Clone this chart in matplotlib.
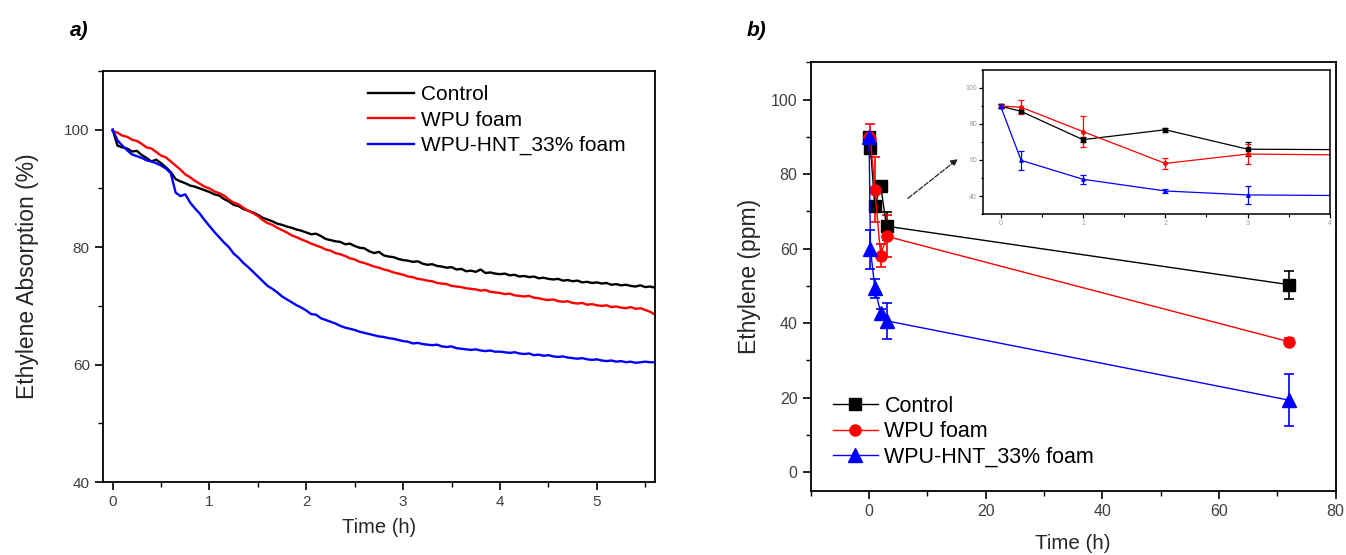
import numpy as np
import matplotlib
matplotlib.use('Agg')
import matplotlib.pyplot as plt
from matplotlib.ticker import MultipleLocator

plt.rcParams['font.family'] = ['Liberation Sans', 'DejaVu Sans']

# ---- panel a: continuous absorption curves, one reading every 0.05 h ----
time_a = np.round(np.arange(113) * 0.05, 2)

control_a = [
    100.0, 97.3, 97.0, 96.8, 96.3, 96.4, 95.7, 95.2, 94.6, 94.9,
    94.3, 93.6, 92.8, 91.6, 91.2, 90.9, 90.5, 90.3, 90.0, 89.7,
    89.4, 89.0, 88.8, 88.2, 87.8, 87.2, 87.0, 86.5, 86.2, 85.9,
    85.5, 85.0, 84.7, 84.4, 84.0, 83.8, 83.5, 83.3, 83.0, 82.8,
    82.5, 82.2, 82.3, 81.9, 81.4, 81.2, 81.0, 80.9, 80.5, 80.6,
    80.2, 79.9, 79.8, 79.3, 79.0, 79.2, 78.6, 78.4, 78.3, 78.0,
    77.8, 77.7, 77.5, 77.6, 77.2, 77.0, 77.1, 76.8, 76.7, 76.5,
    76.6, 76.2, 76.3, 75.9, 76.0, 75.8, 76.2, 75.6, 75.7, 75.5,
    75.4, 75.5, 75.2, 75.3, 75.0, 75.1, 74.9, 75.0, 74.7, 74.8,
    74.6, 74.5, 74.6, 74.3, 74.4, 74.2, 74.3, 74.0, 74.1, 73.9,
    74.0, 73.8, 73.9, 73.6, 73.7, 73.5, 73.6, 73.4, 73.3, 73.5,
    73.2, 73.3, 73.1,
]
wpu_a = [
    99.8, 99.5, 99.0, 98.8, 98.3, 98.1, 97.6, 97.0, 96.8, 96.2,
    95.6, 95.3, 94.6, 93.9, 93.2, 92.4, 91.9, 91.3, 90.8, 90.3,
    90.0, 89.5, 89.2, 88.8, 88.1, 87.6, 87.3, 86.7, 86.2, 85.8,
    85.3, 84.6, 84.1, 83.8, 83.3, 82.9, 82.5, 82.0, 81.7, 81.3,
    81.0, 80.6, 80.3, 80.0, 79.6, 79.4, 79.0, 78.8, 78.5, 78.1,
    77.9, 77.5, 77.3, 77.0, 76.7, 76.5, 76.2, 76.0, 75.7, 75.5,
    75.3, 75.0, 74.9, 74.6, 74.5, 74.3, 74.2, 73.9, 73.8, 73.7,
    73.4, 73.3, 73.2, 73.0, 72.9, 72.8, 72.6, 72.7, 72.4, 72.3,
    72.2, 72.0, 72.1, 71.8, 71.7, 71.6, 71.7, 71.4, 71.3, 71.1,
    71.0, 71.1, 70.8, 70.7, 70.8, 70.5, 70.4, 70.5, 70.2, 70.3,
    70.1, 70.0, 70.1, 69.8, 69.9, 69.7, 69.6, 69.8, 69.5, 69.6,
    69.3, 69.0, 68.5,
]
hnt_a = [
    100.0, 98.2, 97.3, 96.5, 95.8, 95.5, 95.2, 94.8, 94.6, 94.3,
    93.9, 93.4, 92.6, 89.3, 88.7, 89.0, 87.6, 86.6, 85.7, 84.6,
    83.6, 82.6, 81.7, 80.8, 80.0, 78.9, 78.2, 77.3, 76.6, 75.8,
    75.0, 74.2, 73.4, 72.9, 72.3, 71.6, 71.1, 70.6, 70.1, 69.7,
    69.2, 68.6, 68.5, 67.9, 67.6, 67.3, 67.0, 66.6, 66.3, 66.1,
    65.9, 65.6, 65.4, 65.2, 65.0, 64.8, 64.7, 64.5, 64.4, 64.2,
    64.0, 63.9, 63.6, 63.7, 63.5, 63.4, 63.3, 63.4, 63.1, 63.0,
    63.1, 62.8, 62.7, 62.6, 62.5, 62.6, 62.4, 62.3, 62.4, 62.2,
    62.2, 62.1, 62.0, 62.1, 61.9, 61.8, 61.9, 61.6, 61.7, 61.5,
    61.6, 61.4, 61.3, 61.4, 61.2, 61.1, 61.0, 61.1, 60.9, 60.8,
    60.9, 60.7, 60.6, 60.7, 60.5, 60.6, 60.4, 60.5, 60.3, 60.4,
    60.5, 60.4, 60.4,
]

# ---- panel b: discrete ethylene readings with error bars ----
time_b = [0, 0.25, 1, 2, 3, 72]
control_b = [90.0, 87.0, 71.3, 76.8, 66.0, 50.3]
control_err = [1.0, 1.0, 1.5, 1.0, 3.8, 3.8]
wpu_b = [90.0, 89.3, 75.8, 58.1, 63.3, 35.0]
wpu_err = [1.0, 4.0, 8.8, 3.0, 5.6, 1.0]
hnt_b = [90.0, 59.8, 49.3, 42.8, 40.6, 19.3]
hnt_err = [1.0, 5.2, 2.6, 1.0, 4.8, 7.0]

labels = ['Control', 'WPU foam', 'WPU-HNT_33% foam']
colors = ['#000000', '#ff0000', '#0000ff']
markers = ['s', 'o', '^']
tick_col = '#404040'
label_col = '#262626'

fig = plt.figure(figsize=(13.46, 5.55), dpi=100)

# panel a
ax1 = fig.add_axes([0.0765, 0.1315, 0.4101, 0.7405])
for y, c, lab in zip([control_a, wpu_a, hnt_a], colors, labels):
    ax1.plot(time_a, y, color=c, lw=1.7, label=lab)
ax1.set_xlim(-0.1, 5.6)
ax1.set_ylim(40, 110)
ax1.xaxis.set_major_locator(MultipleLocator(1))
ax1.xaxis.set_minor_locator(MultipleLocator(0.5))
ax1.yaxis.set_major_locator(MultipleLocator(20))
ax1.yaxis.set_minor_locator(MultipleLocator(10))
ax1.tick_params(which='major', direction='out', length=6, width=1.2,
                labelsize=11, labelcolor=tick_col)
ax1.tick_params(which='minor', direction='out', length=3.5, width=1.0)
ax1.set_xlabel('Time (h)', fontsize=14.5, color=label_col, labelpad=6)
ax1.set_ylabel('Ethylene Absorption (%)', fontsize=16.5, color=label_col, labelpad=18)
for s in ax1.spines.values():
    s.set_linewidth(1.3)
ax1.legend(loc='upper left', bbox_to_anchor=(0.4805, 0.965), frameon=False,
           fontsize=15, handlelength=2.2, handletextpad=0.35, labelspacing=0.3,
           borderpad=0, borderaxespad=0)

# panel b
ax2 = fig.add_axes([0.6023, 0.1159, 0.3900, 0.7719])
sizes = [8, 8, 9.5]
for y, e, c, m, ms, lab in zip([control_b, wpu_b, hnt_b], [control_err, wpu_err, hnt_err],
                               colors, markers, sizes, labels):
    ax2.errorbar(time_b, y, yerr=e, color=c, marker=m, ms=ms, lw=1.0,
                 elinewidth=1.2, capsize=3.5, capthick=1.2, label=lab)
ax2.set_xlim(-10, 80)
ax2.set_ylim(-5, 110)
ax2.xaxis.set_major_locator(MultipleLocator(20))
ax2.xaxis.set_minor_locator(MultipleLocator(10))
ax2.yaxis.set_major_locator(MultipleLocator(20))
ax2.yaxis.set_minor_locator(MultipleLocator(10))
ax2.tick_params(which='major', direction='out', length=6, width=1.2,
                labelsize=11.5, labelcolor=tick_col)
ax2.tick_params(which='minor', direction='out', length=3.5, width=1.0)
ax2.set_xlabel('Time (h)', fontsize=14.8, color=label_col, labelpad=11)
ax2.set_ylabel('Ethylene (ppm)', fontsize=16.5, color=label_col, labelpad=7)
for s in ax2.spines.values():
    s.set_linewidth(1.3)
handles, labs = ax2.get_legend_handles_labels()
handles = [h[0] for h in handles]
ax2.legend(handles, labs, loc='upper left', bbox_to_anchor=(0.042, 0.221), frameon=False,
           fontsize=15.5, handlelength=2.1, handletextpad=0.3, labelspacing=0.2,
           borderpad=0, borderaxespad=0)
ax2.annotate('', xy=(15.6, 84.5), xytext=(6.3, 73.0),
             arrowprops=dict(arrowstyle='-|>', color='#222222', lw=0.9,
                             linestyle=(0, (4, 1.5)), mutation_scale=10))

# inset zoom of the first hours
ax3 = fig.add_axes([0.7305, 0.6144, 0.2576, 0.2595])
for y, e, c, m in zip([control_b, wpu_b, hnt_b], [control_err, wpu_err, hnt_err],
                      colors, markers):
    ax3.errorbar(time_b, y, yerr=e, color=c, marker=m, ms=2.5, lw=0.9,
                 elinewidth=0.9, capsize=2, capthick=0.9)
ax3.set_xlim(-0.21, 4)
ax3.set_ylim(30, 110)
ax3.xaxis.set_major_locator(MultipleLocator(1))
ax3.xaxis.set_minor_locator(MultipleLocator(0.5))
ax3.yaxis.set_major_locator(MultipleLocator(20))
ax3.yaxis.set_minor_locator(MultipleLocator(10))
ax3.tick_params(which='major', direction='out', length=3, width=0.9,
                labelsize=5, labelcolor='#9a9a9a', pad=1.5)
ax3.tick_params(which='minor', direction='out', length=1.8, width=0.8)
for s in ax3.spines.values():
    s.set_linewidth(1.1)

fig.text(0.052, 0.935, 'a)', fontsize=15, fontweight='bold', style='italic')
fig.text(0.555, 0.935, 'b)', fontsize=15, fontweight='bold', style='italic')

fig.savefig('out.png', dpi=100)
